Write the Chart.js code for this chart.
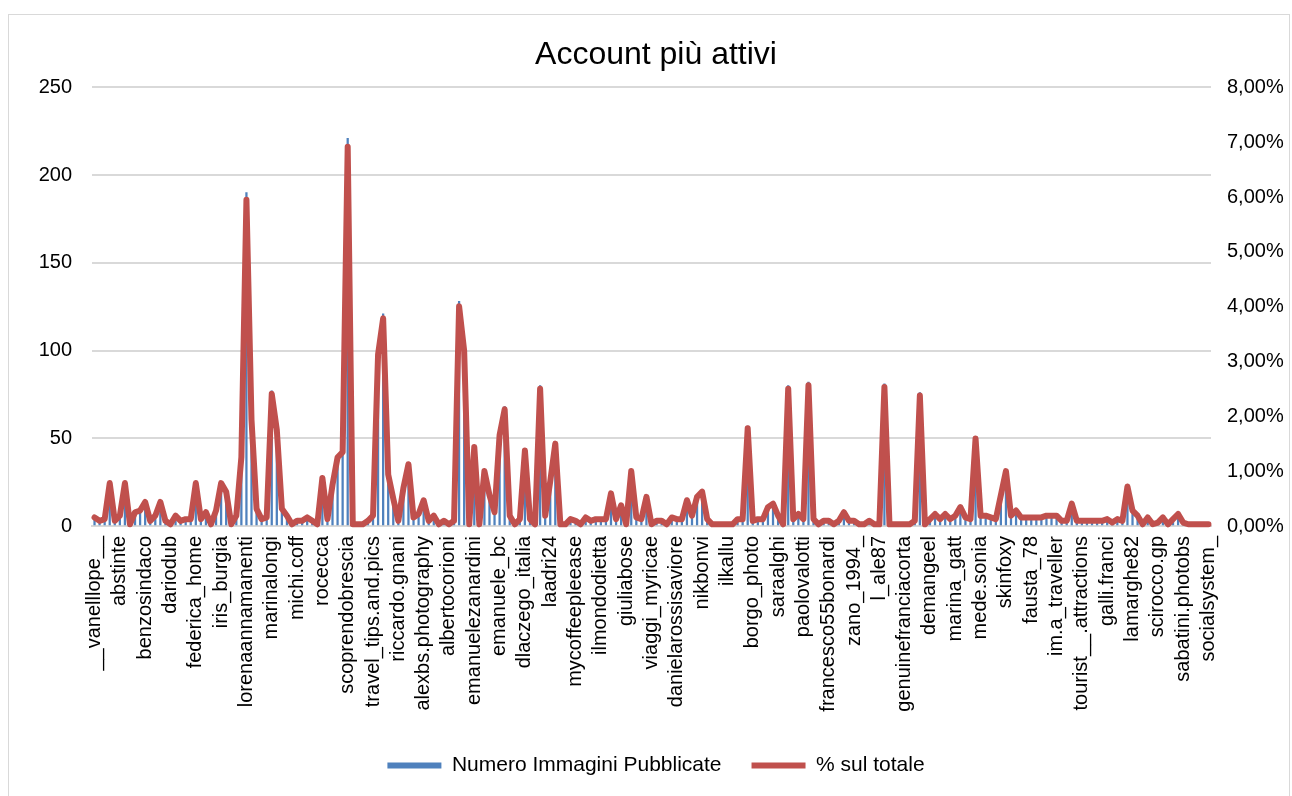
<!DOCTYPE html>
<html lang="it">
<head>
<meta charset="utf-8">
<title>Account più attivi</title>
<script src="https://cdn.jsdelivr.net/npm/chart.js@4.4.1/dist/chart.umd.min.js"></script>
<style>
  html, body { margin: 0; padding: 0; background: #fff; }
  #wrap { position: relative; width: 1292px; height: 796px; }
</style>
</head>
<body>
<div id="wrap"><canvas id="chart" width="1292" height="796"></canvas></div>
<script>
// Account names printed under the axis (one every LABEL_EVERY accounts)
const labelledAccounts = [
  '__vanelllope__', 'abstinte', 'benzosindaco', 'dariodub', 'federica_home',
  'iris_burgia', 'lorenaannamanenti', 'marinalongi', 'michi.coff', 'rocecca',
  'scoprendobrescia', 'travel_tips.and.pics', 'riccardo.gnani', 'alexbs.photography', 'albertocorioni',
  'emanuelezanardini', 'emanuele_bc', 'dlaczego_italia', 'laadri24', 'mycoffeepleease',
  'ilmondodietta', 'giuliabose', 'viaggi_myricae', 'danielarossisaviore', 'nikbonvi',
  'ilkallu', 'borgo_photo', 'saraalghi', 'paolovalotti', 'francesco55bonardi',
  'zano_1994_', 'l_ale87', 'genuinefranciacorta', 'demangeel', 'marina_gatt',
  'mede.sonia', 'skinfoxy', 'fausta_78', 'im.a_traveller', 'tourist__.attractions',
  'galli.franci', 'lamarghe82', 'scirocco.gp', 'sabatini.photobs', 'socialsystem_'
];
const LABEL_EVERY = 5;

// Images published by each account, in axis order
const imagesPerAccount = [
    5,   3,   4,  25,   3,   6,  25,   1,   8,   9,
   14,   3,   6,  14,   3,   1,   6,   3,   4,   4,
   25,   4,   8,   1,   9,  25,  20,   1,   6,  40,
  190,  62,  10,   4,   5,  77,  56,  10,   6,   1,
    3,   3,   5,   3,   1,  28,   4,  24,  40,  43,
  221,   1,   1,   1,   3,   6, 100, 121,  30,  16,
    3,  22,  36,   5,   7,  15,   3,   6,   1,   3,
    1,   3, 128, 102,   1,  46,   1,  32,  18,   8,
   53,  68,   6,   1,   4,  44,   4,   1,  80,   6,
   26,  48,   1,   1,   4,   3,   1,   5,   3,   4,
    4,   4,  19,   4,  12,   1,  32,   5,   4,  17,
    1,   3,   3,   1,   5,   4,   4,  15,   6,  17,
   20,   4,   1,   1,   1,   1,   1,   4,   4,  57,
    3,   4,   4,  11,  13,   6,   1,  80,   4,   7,
    4,  82,   4,   1,   3,   3,   1,   3,   8,   3,
    3,   1,   1,   3,   1,   1,  81,   1,   1,   1,
    1,   1,   3,  76,   1,   4,   7,   4,   7,   4,
    6,  11,   5,   4,  51,   6,   6,   5,   4,  18,
   32,   6,   9,   5,   5,   5,   5,   5,   6,   6,
    6,   3,   3,  13,   3,   3,   3,   3,   3,   3,
    4,   2,   4,   3,  23,   9,   6,   1,   5,   1,
    2,   5,   1,   4,   7,   2,   1,   1,   1,   1,
    1
];

// Left axis (counts) and right axis (share) tick settings
const countAxis = { min: 0, max: 250, step: 50 };
const shareAxis = { min: 0, max: 8, step: 1 };

// Category labels: only every LABEL_EVERY-th account is printed
const categories = imagesPerAccount.map((_, i) =>
  i % LABEL_EVERY === 0 ? (labelledAccounts[i / LABEL_EVERY] || '') : '');

// Share of each account on the total number of published images (%)
const totalImages = imagesPerAccount.reduce((a, b) => a + b, 0);
const shareOfTotal = imagesPerAccount.map(v => v / totalImages * 100);

const FONT = '"Liberation Sans", Arial, sans-serif';
const BAR_BLUE = '#4f81bd';
const LINE_RED = '#c0504d';
Chart.defaults.font.family = FONT;
Chart.defaults.color = '#000';

// White background and thin frame around the whole chart
const chartFrame = {
  id: 'chartFrame',
  beforeDraw(chart) {
    const ctx = chart.ctx;
    ctx.save();
    ctx.fillStyle = '#fff';
    ctx.fillRect(0, 0, chart.width, chart.height);
    ctx.strokeStyle = '#d9d9d9';
    ctx.lineWidth = 1;
    ctx.strokeRect(8.5, 14.5, 1281, 790);
    ctx.restore();
  }
};

new Chart(document.getElementById('chart'), {
  data: {
    labels: categories,
    datasets: [
      {
        type: 'bar',
        label: 'Numero Immagini Pubblicate',
        data: imagesPerAccount,
        yAxisID: 'y',
        backgroundColor: BAR_BLUE,
        barThickness: 1.6,
        order: 1
      },
      {
        type: 'line',
        label: '% sul totale',
        data: shareOfTotal,
        yAxisID: 'y1',
        borderColor: LINE_RED,
        backgroundColor: LINE_RED,
        borderWidth: 6,
        pointRadius: 0,
        tension: 0,
        borderJoinStyle: 'round',
        borderCapStyle: 'round',
        clip: false,
        order: 0
      }
    ]
  },
  options: {
    responsive: false,
    animation: false,
    devicePixelRatio: 1,
    layout: { padding: { left: 20, right: 0, top: 26, bottom: 10 } },
    plugins: {
      tooltip: { enabled: false },
      title: {
        display: true,
        text: 'Account più attivi',
        color: '#000',
        font: { family: FONT, size: 32, weight: 'normal' },
        padding: { top: 10, bottom: 13 }
      },
      legend: {
        position: 'bottom',
        labels: {
          font: { family: FONT, size: 21 },
          color: '#000',
          boxWidth: 54,
          boxHeight: 6,
          padding: 30,
          generateLabels(chart) {
            return chart.data.datasets.map((ds, i) => ({
              text: ds.label,
              fillStyle: ds.type === 'bar' ? BAR_BLUE : LINE_RED,
              strokeStyle: ds.type === 'bar' ? BAR_BLUE : LINE_RED,
              lineWidth: 0,
              hidden: false,
              datasetIndex: i
            }));
          }
        }
      }
    },
    scales: {
      x: {
        offset: true,
        grid: { display: false, drawTicks: false },
        border: { display: true, color: '#d9d9d9', width: 2 },
        ticks: {
          autoSkip: false,
          minRotation: 90,
          maxRotation: 90,
          padding: 10,
          color: '#000',
          font: { family: FONT, size: 20 }
        },
        afterFit(scale) { scale.height = 199; }
      },
      y: {
        position: 'left',
        min: countAxis.min,
        max: countAxis.max,
        ticks: { stepSize: countAxis.step, padding: 20, color: '#000', font: { family: FONT, size: 20 } },
        grid: { color: '#d9d9d9', lineWidth: 2, drawTicks: false },
        border: { display: false },
        afterFit(scale) { scale.width = 72; }
      },
      y1: {
        position: 'right',
        min: shareAxis.min,
        max: shareAxis.max,
        ticks: {
          stepSize: shareAxis.step,
          padding: 16,
          color: '#000',
          font: { family: FONT, size: 20 },
          callback: v => v.toFixed(2).replace('.', ',') + '%'
        },
        grid: { display: false, drawTicks: false },
        border: { display: false },
        afterFit(scale) { scale.width = 81; }
      }
    }
  },
  plugins: [chartFrame]
});
</script>
</body>
</html>
